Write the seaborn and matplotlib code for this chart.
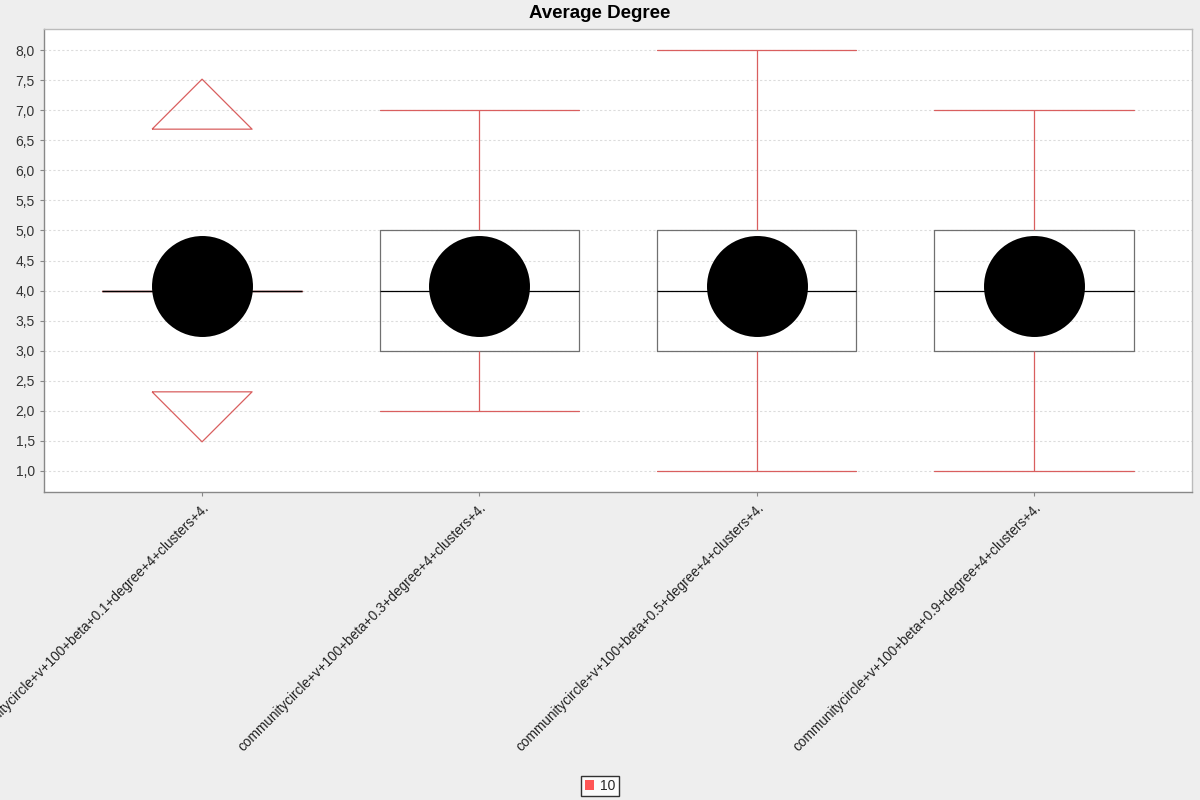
import numpy as np
import pandas as pd
import matplotlib
matplotlib.use('Agg')
import matplotlib.pyplot as plt
import seaborn as sns
from matplotlib.patches import Patch
from matplotlib.ticker import FuncFormatter, MultipleLocator

sns.set_style('white')
plt.rcParams['font.family'] = ['Liberation Sans', 'DejaVu Sans']

# DADOS
categories = [
    'communitycircle+v+100+beta+0.1+degree+4+clusters+4.',
    'communitycircle+v+100+beta+0.3+degree+4+clusters+4.',
    'communitycircle+v+100+beta+0.5+degree+4+clusters+4.',
    'communitycircle+v+100+beta+0.9+degree+4+clusters+4.',
]
series_name = '10'
lows = [4, 2, 1, 1]
q1s = [4, 3, 3, 3]
medians = [4, 4, 4, 4]
q3s = [4, 5, 5, 5]
highs = [4, 7, 8, 7]
means = [4.07, 4.07, 4.07, 4.07]
farout_high = [7.1, np.nan, np.nan, np.nan]
farout_low = [1.9, np.nan, np.nan, np.nan]

# TABELA LONGA PARA O BOXPLOT (5 valores -> min, q1, mediana, q3, max)
rows = []
for i, cat in enumerate(categories):
    for v in [lows[i], q1s[i], medians[i], q3s[i], highs[i]]:
        rows.append({'config': cat, 'value': v})
df = pd.DataFrame(rows)

red = '#d95f5f'

fig = plt.figure(figsize=(12, 8), dpi=100, facecolor='#eeeeee')
ax = fig.add_axes([44 / 1200, 1 - 492 / 800, 1148 / 1200, 463 / 800])
ax.set_facecolor('white')

sns.boxplot(data=df, x='config', y='value', order=categories, whis=np.inf,
            width=0.72, fill=False, ax=ax, capwidths=0.72,
            boxprops={'color': '#707070', 'linewidth': 0.9},
            whiskerprops={'color': red, 'linewidth': 0.9},
            capprops={'color': red, 'linewidth': 0.9},
            medianprops={'color': 'black', 'linewidth': 0.9})

# MEDIAS (CIRCULOS PRETOS)
pos = np.arange(len(categories))
sns.scatterplot(x=pos, y=means, s=5285, color='black', linewidth=0,
                ax=ax, legend=False, zorder=5)

# INDICADORES DE VALORES EXTREMOS
up_tri = [(-1, -0.5), (1, -0.5), (0, 0.5), (-1, -0.5)]
down_tri = [(-1, 0.5), (1, 0.5), (0, -0.5), (-1, 0.5)]
ax.scatter(pos, farout_high, marker=up_tri, s=5184, facecolors='none',
           edgecolors=red, linewidths=0.9, zorder=4)
ax.scatter(pos, farout_low, marker=down_tri, s=5184, facecolors='none',
           edgecolors=red, linewidths=0.9, zorder=4)

ax.set_xlim(-0.57, 3.57)
ax.set_ylim(0.65, 8.35)
ax.yaxis.set_major_locator(MultipleLocator(0.5))
ax.yaxis.set_major_formatter(FuncFormatter(lambda v, p: ('%.1f' % v).replace('.', ',')))
ax.yaxis.grid(True, color='#dcdcdc', linestyle=(0, (2, 2)), linewidth=0.8)
ax.xaxis.grid(False)
ax.set_axisbelow(True)
ax.set_xlabel('')
ax.set_ylabel('')

ax.set_xticks(pos)
ax.set_xticklabels(categories, rotation=45, ha='right', va='top',
                   rotation_mode='anchor', fontsize=9.8, color='#222222')
ax.tick_params(axis='y', labelsize=10, labelcolor='#333333', length=3,
               color='#888888', left=True)
ax.tick_params(axis='x', length=3, color='#888888', bottom=True, pad=3)

for side in ['left', 'bottom']:
    ax.spines[side].set_color('#888888')
for side in ['top', 'right']:
    ax.spines[side].set_color('#bbbbbb')
for s in ax.spines.values():
    s.set_linewidth(1)

fig.text(0.5, 1 - 13 / 800, 'Average Degree', ha='center', va='center',
         fontsize=13.5, fontweight='bold', color='black')

handles = [Patch(facecolor='#ff5555', edgecolor='none', label=series_name)]
fig.legend(handles=handles, loc='center', bbox_to_anchor=(0.5, 1 - 786 / 800),
           frameon=True, fancybox=False, edgecolor='black', fontsize=10,
           handlelength=0.7, handleheight=0.7, handletextpad=0.4,
           borderpad=0.25, borderaxespad=0)

plt.savefig('out.png', dpi=100, facecolor=fig.get_facecolor())
